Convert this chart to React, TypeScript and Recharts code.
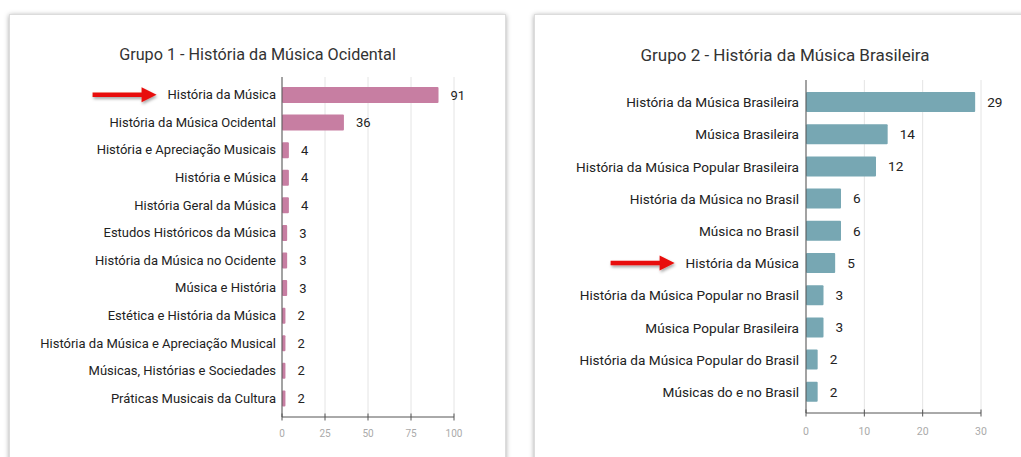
import { BarChart, Bar, XAxis, YAxis, CartesianGrid, LabelList } from 'recharts';

const group1Categories = [
  'História da Música',
  'História da Música Ocidental',
  'História e Apreciação Musicais',
  'História e Música',
  'História Geral da Música',
  'Estudos Históricos da Música',
  'História da Música no Ocidente',
  'Música e História',
  'Estética e História da Música',
  'História da Música e Apreciação Musical',
  'Músicas, Histórias e Sociedades',
  'Práticas Musicais da Cultura',
];
const group1Values = [91, 36, 4, 4, 4, 3, 3, 3, 2, 2, 2, 2];
const group1Ticks = [0, 25, 50, 75, 100];

const group2Categories = [
  'História da Música Brasileira',
  'Música Brasileira',
  'História da Música Popular Brasileira',
  'História da Música no Brasil',
  'Música no Brasil',
  'História da Música',
  'História da Música Popular no Brasil',
  'Música Popular Brasileira',
  'História da Música Popular do Brasil',
  'Músicas do e no Brasil',
];
const group2Values = [29, 14, 12, 6, 6, 5, 3, 3, 2, 2];
const group2Ticks = [0, 10, 20, 30];

// category marked with the red arrow in both panels
const highlighted = 'História da Música';

const FONT = 'Roboto, "Noto Sans", sans-serif';

let ctx: CanvasRenderingContext2D | null = null;
function textWidth(text: string, size: number) {
  if (!ctx) ctx = document.createElement('canvas').getContext('2d');
  if (!ctx) return text.length * size * 0.5;
  ctx.font = `${size}px Roboto`;
  return ctx.measureText(text).width;
}

function makeCategoryTick(size: number, gap: number) {
  return function CategoryTick(props: any) {
    const { x, y, payload } = props;
    const tx = x - gap;
    let arrow = null;
    if (payload.value === highlighted) {
      const tip = tx - textWidth(payload.value, size) - 11;
      const tail = tip - 64;
      arrow = (
        <g filter="url(#arrowShadow)">
          <line x1={tail} x2={tip - 13} y1={y} y2={y} stroke="#e8100c" strokeWidth={4.5} />
          <polygon points={`${tip},${y} ${tip - 15},${y - 7.5} ${tip - 15},${y + 7.5}`} fill="#e8100c" />
        </g>
      );
    }
    return (
      <g>
        <defs>
          <filter id="arrowShadow" x="-20%" y="-100%" width="140%" height="300%">
            <feDropShadow dx="1" dy="2" stdDeviation="1.5" floodColor="#000" floodOpacity="0.35" />
          </filter>
        </defs>
        {arrow}
        <text x={tx} y={y} textAnchor="end" dominantBaseline="central" fontSize={size} fill="#222" fontFamily={FONT}>
          {payload.value}
        </text>
      </g>
    );
  };
}

function makeValueTick(labelGap: number, size: number) {
  return function ValueTick(props: any) {
    const { x, y, payload } = props;
    return (
      <g>
        <line x1={x} x2={x} y1={y - 3.5} y2={y + 3.5} stroke="#555" strokeWidth={1} />
        <text x={x} y={y + labelGap} textAnchor="middle" dominantBaseline="central" fontSize={size} fill="#aaa" fontFamily={FONT}>
          {payload.value}
        </text>
      </g>
    );
  };
}

interface GroupChartProps {
  title: string;
  categories: string[];
  values: number[];
  ticks: number[];
  color: string;
  barSize: number;
  width: number;
  height: number;
  margin: { top: number; right: number; bottom: number; left: number };
  yPadding: { top: number; bottom: number };
  yWidth: number;
  tickGap: number;
  titleSize: number;
  labelSize: number;
  labelGap: number;
  tickSize: number;
}

function GroupChart(p: GroupChartProps) {
  const data = p.categories.map((name, i) => ({ name, value: p.values[i] }));
  const CategoryTick = makeCategoryTick(p.labelSize, p.labelGap);
  return (
    <div style={{ position: 'relative', width: p.width, height: p.height }}>
      <div
        style={{
          position: 'absolute',
          top: 30,
          left: 0,
          width: '100%',
          textAlign: 'center',
          fontFamily: FONT,
          fontSize: p.titleSize,
          lineHeight: '20px',
          color: '#333',
        }}
      >
        {p.title}
      </div>
      <BarChart width={p.width} height={p.height} data={data} layout="vertical" margin={p.margin}>
        <CartesianGrid horizontal={false} stroke="#e4e4e4" />
        <XAxis
          type="number"
          domain={[p.ticks[0], p.ticks[p.ticks.length - 1]]}
          ticks={p.ticks}
          interval={0}
          axisLine={{ stroke: '#555' }}
          tickLine={false}
          tickSize={0}
          tickMargin={0}
          tick={makeValueTick(p.tickGap, p.tickSize)}
          height={30}
        />
        <YAxis
          type="category"
          dataKey="name"
          width={p.yWidth}
          axisLine={{ stroke: '#555' }}
          tickLine={false}
          tickSize={0}
          tickMargin={0}
          interval={0}
          padding={p.yPadding}
          tick={<CategoryTick />}
        />
        <Bar dataKey="value" fill={p.color} barSize={p.barSize} radius={1} isAnimationActive={false}>
          <LabelList dataKey="value" position="right" offset={12} fill="#222" fontSize={p.labelSize} fontFamily={FONT} />
        </Bar>
      </BarChart>
    </div>
  );
}

const panelStyle: React.CSSProperties = {
  position: 'absolute',
  top: 15,
  background: '#fff',
  boxShadow: '0 0 0 1px #dcdcdc, 0 1px 5px 1px rgba(0,0,0,0.35)',
  height: 460,
};

export default function App() {
  return (
    <div style={{ position: 'absolute', left: 0, top: 0, width: 1021, height: 457, overflow: 'hidden', background: '#fff' }}>
      <div style={{ ...panelStyle, left: 10, width: 495 }}>
        <GroupChart
          title="Grupo 1 - História da Música Ocidental"
          categories={group1Categories}
          values={group1Values}
          ticks={group1Ticks}
          color="#c77ea2"
          barSize={16}
          width={495}
          height={442}
          margin={{ top: 62, right: 51, bottom: 10, left: 10 }}
          yPadding={{ top: 4, bottom: 5 }}
          yWidth={262}
          tickGap={16}
          titleSize={16.2}
          labelSize={13}
          labelGap={6}
          tickSize={10}
        />
      </div>
      <div style={{ ...panelStyle, left: 535, width: 500 }}>
        <GroupChart
          title="Grupo 2 - História da Música Brasileira"
          categories={group2Categories}
          values={group2Values}
          ticks={group2Ticks}
          color="#77a7b3"
          barSize={20}
          width={500}
          height={442}
          margin={{ top: 65, right: 54, bottom: 14, left: 10 }}
          yPadding={{ top: 6, bottom: 5 }}
          yWidth={261}
          tickGap={18}
          titleSize={17}
          labelSize={13.6}
          labelGap={7}
          tickSize={10.5}
        />
      </div>
    </div>
  );
}
